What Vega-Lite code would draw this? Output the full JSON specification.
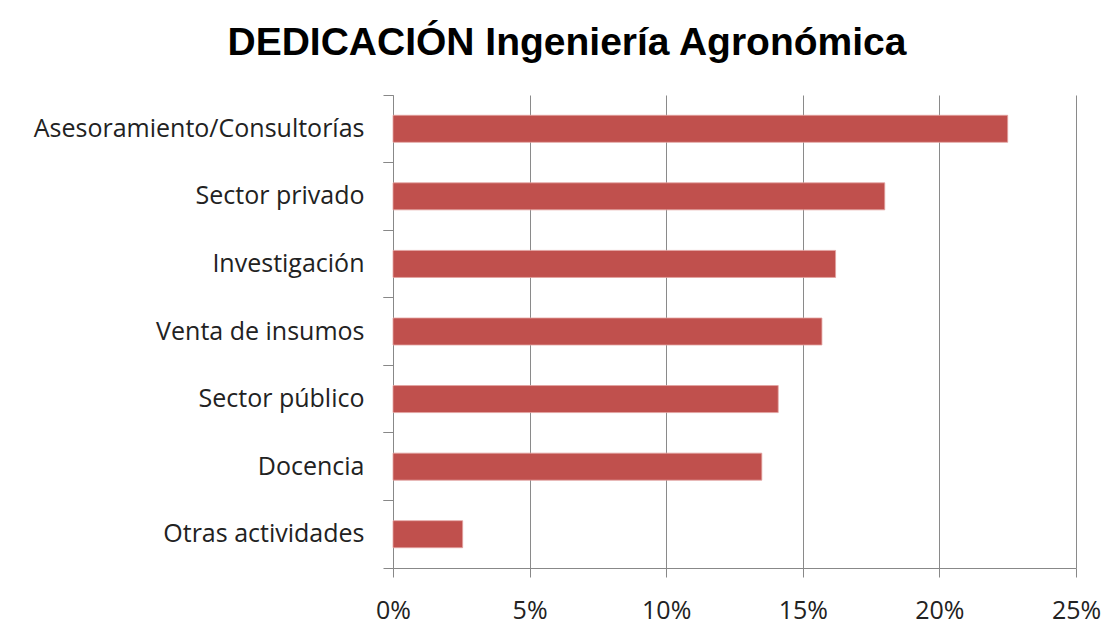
{
  "$schema": "https://vega.github.io/schema/vega-lite/v6.json",
  "width": 683,
  "height": 473,
  "autosize": {"type": "none"},
  "padding": {"left": 393, "top": 95, "right": 30, "bottom": 71},
  "background": "white",
  "title": {
    "text": "DEDICACIÓN Ingeniería Agronómica",
    "font": "Liberation Sans",
    "fontSize": 39,
    "fontWeight": "bold",
    "color": "#000000",
    "anchor": "middle",
    "frame": "bounds",
    "baseline": "alphabetic",
    "offset": 1
  },
  "config": {
    "view": {"stroke": null},
    "axis": {"labelFont": "Open Sans", "labelColor": "#222222", "domainColor": "#888888", "tickColor": "#888888", "gridColor": "#8a8a8a"}
  },
  "data": {
    "values": [
      {"categoria": "Asesoramiento/Consultorías", "valor": 0.225},
      {"categoria": "Sector privado", "valor": 0.18},
      {"categoria": "Investigación", "valor": 0.162},
      {"categoria": "Venta de insumos", "valor": 0.157},
      {"categoria": "Sector público", "valor": 0.141},
      {"categoria": "Docencia", "valor": 0.135},
      {"categoria": "Otras actividades", "valor": 0.0255}
    ]
  },
  "encoding": {
    "x": {
      "field": "valor",
      "type": "quantitative",
      "scale": {"domain": [0, 0.25], "nice": false},
      "axis": {
        "title": null,
        "format": ".0%",
        "values": [0, 0.05, 0.1, 0.15, 0.2, 0.25],
        "grid": true,
        "gridWidth": 1,
        "tickSize": 9,
        "labelPadding": 21,
        "labelFontSize": 25,
        "labelFlush": false,
        "domainWidth": 1
      }
    }
  },
  "layer": [
    {
      "mark": {"type": "bar", "color": "#C0504D", "stroke": "#e3a3a1", "strokeWidth": 0.8, "height": {"band": 0.4}},
      "encoding": {
        "y": {
          "field": "categoria",
          "type": "nominal",
          "sort": null,
          "scale": {"paddingInner": 0, "paddingOuter": 0},
          "axis": {
            "orient": "left",
            "title": null,
            "labelFontSize": 25,
            "labelPadding": 19,
            "tickSize": 10,
            "tickOpacity": 0,
            "domain": true,
            "domainWidth": 1,
            "labelLimit": 400
          }
        }
      }
    },
    {
      "mark": {"type": "bar", "opacity": 0, "height": {"band": 0.4}},
      "encoding": {
        "y": {
          "field": "categoria",
          "type": "nominal",
          "sort": null,
          "axis": {"orient": "left", "title": null, "labels": false, "domain": false, "tickSize": 10, "bandPosition": 0}
        }
      }
    },
    {
      "mark": {"type": "bar", "opacity": 0, "height": {"band": 0.4}},
      "encoding": {
        "y": {
          "field": "categoria",
          "type": "nominal",
          "sort": null,
          "axis": {"orient": "left", "title": null, "labels": false, "domain": false, "tickSize": 10, "bandPosition": 1}
        }
      }
    }
  ],
  "resolve": {"axis": {"y": "independent"}}
}
